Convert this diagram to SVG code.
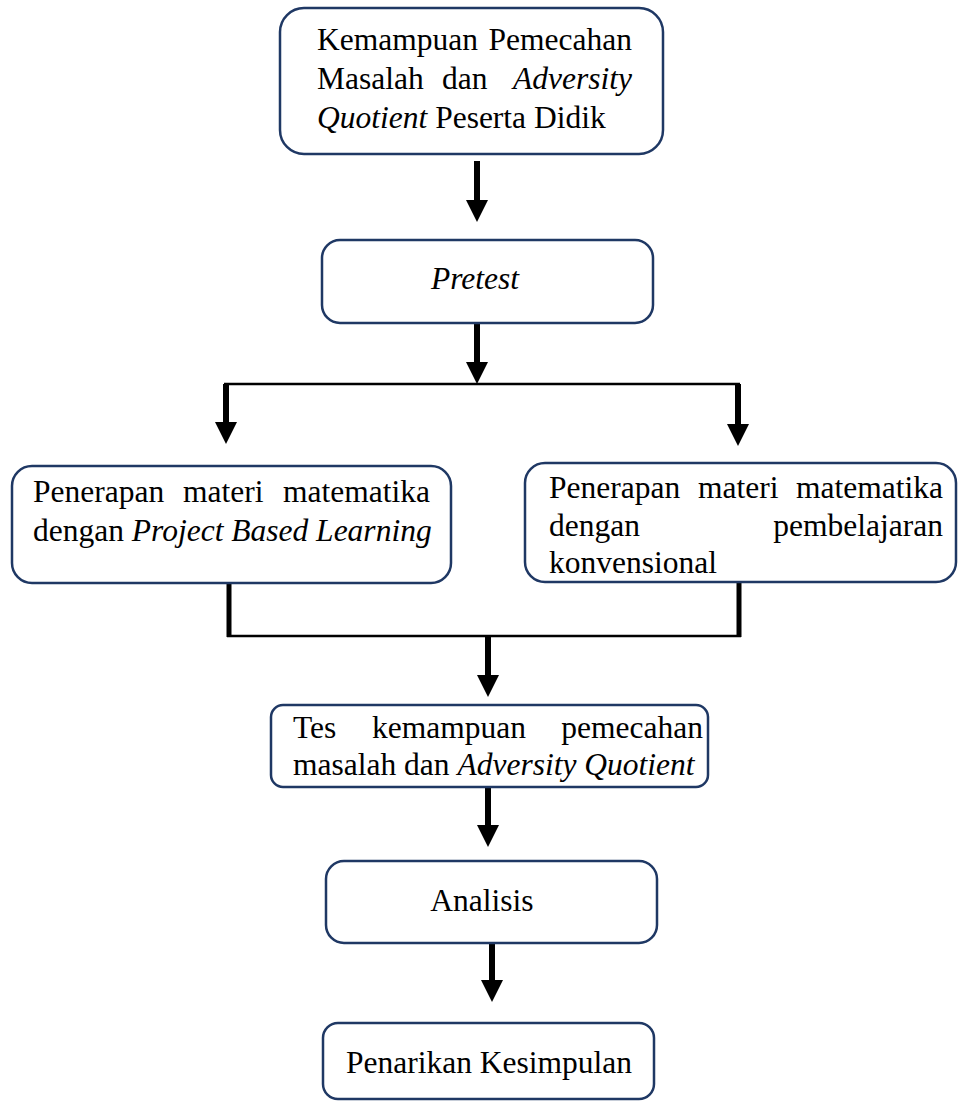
<svg xmlns="http://www.w3.org/2000/svg" width="958" height="1102" viewBox="0 0 958 1102">
<style>
.box{fill:#ffffff;stroke:#1F3864;stroke-width:2.5}
.t{font-family:"Liberation Serif","Times New Roman",serif;font-size:31.5px;fill:#000}
.i{font-style:italic}
.shaft{stroke:#000;stroke-width:6;fill:none}
.line{stroke:#000;stroke-width:2.5;fill:none}
.drop{stroke:#000;stroke-width:5;fill:none}
</style>
<defs>
<marker id="ah" markerUnits="userSpaceOnUse" markerWidth="22" markerHeight="22" viewBox="0 0 22 22" refX="0" refY="11" orient="auto">
<path d="M0,0 L22,11 L0,22 z" fill="#000"/>
</marker>
</defs>
<rect width="958" height="1102" fill="#fff"/>
<g id="connectors">
<line class="shaft" x1="477" y1="161" x2="477" y2="200" marker-end="url(#ah)"/>
<line class="shaft" x1="477" y1="323" x2="477" y2="362" marker-end="url(#ah)"/>
<line class="line" x1="224" y1="384" x2="740" y2="384"/>
<line class="shaft" x1="226" y1="384" x2="226" y2="422" marker-end="url(#ah)"/>
<line class="shaft" x1="738" y1="384" x2="738" y2="424" marker-end="url(#ah)"/>
<line class="drop" x1="229" y1="583" x2="229" y2="637"/>
<line class="drop" x1="739" y1="582" x2="739" y2="637"/>
<line class="line" x1="227" y1="636" x2="741" y2="636"/>
<line class="shaft" x1="488" y1="636" x2="488" y2="675" marker-end="url(#ah)"/>
<line class="shaft" x1="488" y1="787" x2="488" y2="825" marker-end="url(#ah)"/>
<line class="shaft" x1="492" y1="943" x2="492" y2="980" marker-end="url(#ah)"/>
</g>
<g id="n1">
<rect class="box" x="280" y="8" width="383" height="146" rx="24"/>
<text class="t" x="317" y="50">Kemampuan</text>
<text class="t" x="632" y="50" text-anchor="end">Pemecahan</text>
<text class="t" x="317" y="89">Masalah</text>
<text class="t" x="442" y="89">dan</text>
<text class="t i" x="632" y="89" text-anchor="end">Adversity</text>
<text class="t" x="317" y="128"><tspan class="i">Quotient</tspan> Peserta Didik</text>
</g>
<g id="n2">
<rect class="box" x="322" y="240" width="331" height="83" rx="18"/>
<text class="t i" x="475" y="289" text-anchor="middle">Pretest</text>
</g>
<g id="n3">
<rect class="box" x="12" y="466" width="439" height="117" rx="20"/>
<text class="t" x="33" y="502">Penerapan</text>
<text class="t" x="183" y="502">materi</text>
<text class="t" x="430" y="502" text-anchor="end">matematika</text>
<text class="t" x="33" y="541">dengan <tspan class="i">Project Based Learning</tspan></text>
</g>
<g id="n4">
<rect class="box" x="525" y="463" width="431" height="119" rx="20"/>
<text class="t" x="549" y="498">Penerapan</text>
<text class="t" x="698" y="498">materi</text>
<text class="t" x="943" y="498" text-anchor="end">matematika</text>
<text class="t" x="549" y="536">dengan</text>
<text class="t" x="943" y="536" text-anchor="end">pembelajaran</text>
<text class="t" x="549" y="573">konvensional</text>
</g>
<g id="n5">
<rect class="box" x="271" y="705" width="437" height="82" rx="12"/>
<text class="t" x="293" y="738">Tes</text>
<text class="t" x="372" y="738">kemampuan</text>
<text class="t" x="703" y="738" text-anchor="end">pemecahan</text>
<text class="t" x="293" y="775">masalah dan <tspan class="i">Adversity Quotient</tspan></text>
</g>
<g id="n6">
<rect class="box" x="326" y="861" width="331" height="82" rx="18"/>
<text class="t" x="482" y="911" text-anchor="middle">Analisis</text>
</g>
<g id="n7">
<rect class="box" x="323" y="1023" width="331" height="76" rx="15"/>
<text class="t" x="346" y="1073">Penarikan Kesimpulan</text>
</g>
</svg>
